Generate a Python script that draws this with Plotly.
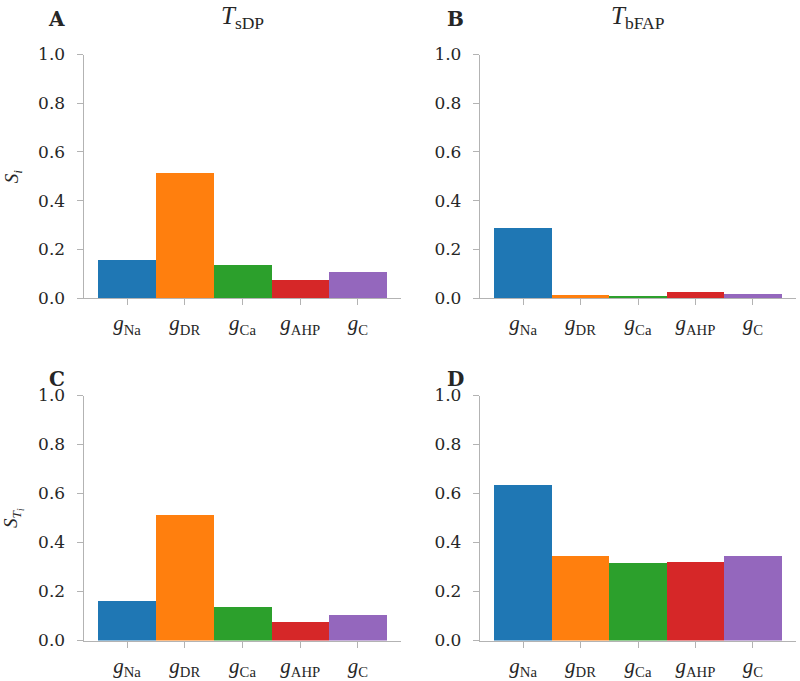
import plotly.graph_objects as go

params = ["Na", "DR", "Ca", "AHP", "C"]
colors = ["#1f77b4", "#ff7f0e", "#2ca02c", "#d62728", "#9467bd"]

si_sdp = [0.159, 0.516, 0.137, 0.077, 0.107]
si_bfap = [0.290, 0.015, 0.011, 0.026, 0.019]
st_sdp = [0.162, 0.516, 0.137, 0.079, 0.108]
st_bfap = [0.637, 0.345, 0.319, 0.324, 0.349]

panel_letters = ["A", "B", "C", "D"]
col_titles = ["<i>T</i><sub>sDP</sub>", "<i>T</i><sub>bFAP</sub>"]
row_labels = ["<i>S</i><sub><i>i</i></sub>", "<i>S</i><sub><i>T</i><sub><i>i</i></sub></sub>"]
yticks = [0.0, 0.2, 0.4, 0.6, 0.8, 1.0]

W, H = 800, 681
xdom = [[83.7 / W, 401.3 / W], [480 / W, 796 / W]]
ydom = [[1 - 298 / H, 1 - 54.5 / H], [1 - 640.5 / H, 1 - 395.5 / H]]

tick_labels = ["<i>g</i><sub>%s</sub>" % p for p in params]
xs = list(range(len(params)))

fig = go.Figure()
data = [[si_sdp, si_bfap], [st_sdp, st_bfap]]
axcol = "#b3b3b3"
k = 0
for r in range(2):
    for c in range(2):
        k += 1
        xa = "x" if k == 1 else "x%d" % k
        ya = "y" if k == 1 else "y%d" % k
        fig.add_trace(go.Bar(x=xs, y=data[r][c], marker=dict(color=colors, line=dict(width=0)),
                             width=1.0, xaxis=xa, yaxis=ya, showlegend=False))
        xkey = "xaxis" if k == 1 else "xaxis%d" % k
        ykey = "yaxis" if k == 1 else "yaxis%d" % k
        fig.update_layout(**{
            xkey: dict(domain=xdom[c], anchor=ya, range=[-0.75, 4.75], tickmode="array",
                       tickvals=xs, ticktext=tick_labels, showline=True, linecolor=axcol,
                       linewidth=1.3, ticks="outside", ticklen=6, tickcolor=axcol, tickwidth=1.3,
                       showgrid=False, zeroline=False, ticklabelstandoff=0, automargin=False,
                       tickfont=dict(family="Liberation Serif", size=21, color="#262626")),
            ykey: dict(domain=ydom[r], anchor=xa, range=[0, 1.0], tickmode="array",
                       tickvals=yticks, ticktext=["%.1f" % v for v in yticks], showline=True,
                       linecolor=axcol, linewidth=1.3, ticks="outside", ticklen=6,
                       tickcolor=axcol, tickwidth=1.3, showgrid=False, zeroline=False,
                       ticklabelstandoff=8, automargin=False,
                       tickfont=dict(family="DejaVu Serif", size=17, color="#262626")),
        })

annotations = []
letter_x = [57, 455]
letter_y = [19, 379]
for r in range(2):
    for c in range(2):
        annotations.append(dict(text="<b>%s</b>" % panel_letters[r * 2 + c], x=letter_x[c] / W,
                                y=1 - letter_y[r] / H, xref="paper", yref="paper",
                                showarrow=False, xanchor="center", yanchor="middle",
                                font=dict(family="DejaVu Serif", size=20, color="#262626")))
for c in range(2):
    annotations.append(dict(text=col_titles[c], x=(xdom[c][0] + xdom[c][1]) / 2, y=1 - 18 / H,
                            xref="paper", yref="paper", showarrow=False, xanchor="center",
                            yanchor="middle",
                            font=dict(family="Liberation Serif", size=25, color="#262626")))
for r in range(2):
    annotations.append(dict(text=row_labels[r], x=13 / W, y=(ydom[r][0] + ydom[r][1]) / 2,
                            xref="paper", yref="paper", showarrow=False, textangle=-90,
                            xanchor="center", yanchor="middle",
                            font=dict(family="Liberation Serif", size=19, color="#262626")))

fig.update_layout(width=W, height=H, margin=dict(l=0, r=0, t=0, b=0, autoexpand=False),
                  paper_bgcolor="white", plot_bgcolor="white", bargap=0,
                  annotations=annotations)
fig.write_html("out.html", config={"displayModeBar": False},
               post_script="document.body.style.margin='0';")
